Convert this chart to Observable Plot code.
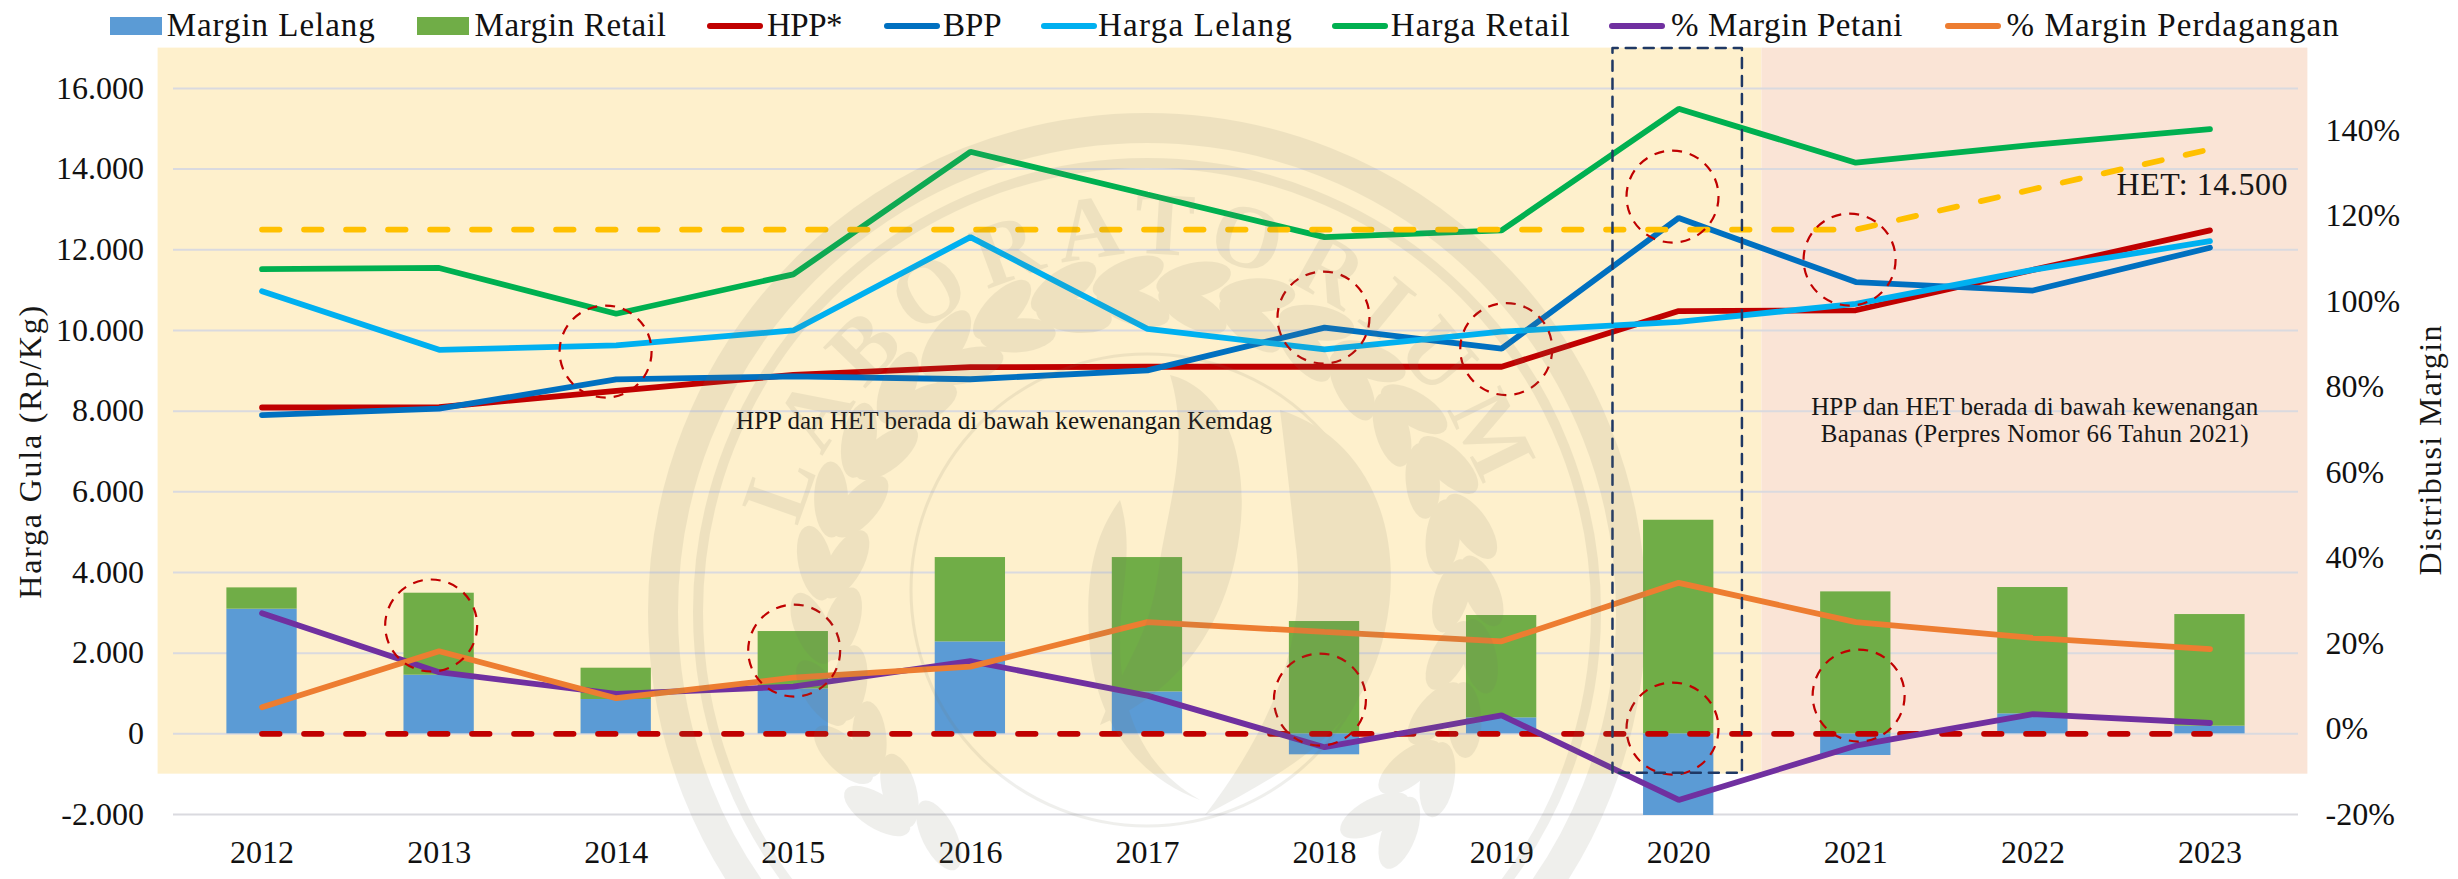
<!DOCTYPE html>
<html><head><meta charset="utf-8">
<script src="https://cdn.jsdelivr.net/npm/d3@7"></script>
<script src="https://cdn.jsdelivr.net/npm/@observablehq/plot@0.6"></script>
<style>
html,body{margin:0;padding:0;background:#fff;}
#wrap{position:relative;width:2458px;height:879px;overflow:hidden;font-family:"Liberation Serif",serif;color:#111;}
#wrap svg{position:absolute;left:0;top:0;}
.lg-text{position:absolute;font-size:33px;line-height:40px;top:5px;white-space:nowrap;}
.lg-sw{position:absolute;}
</style></head><body><div id="wrap"></div>
<script>
const years = [2012,2013,2014,2015,2016,2017,2018,2019,2020,2021,2022,2023];
const marginLelang = [3090,1454,851,1115,2280,1040,-520,397,-2024,-537,496,190];
const marginRetail = [528,2032,776,1421,2090,3330,2784,2536,5295,3519,3131,2767];
const hpp = [8090,8100,8500,8900,9090,9100,9100,9100,10480,10500,11500,12480];
const bpp = [7900,8060,8785,8860,8790,9010,10070,9550,12790,11200,10990,12050];
const hargaLelang = [10975,9520,9630,10000,12315,10040,9530,9970,10215,10660,11500,12215];
const hargaRetail = [11520,11550,10415,11390,14430,13370,12315,12480,15495,14160,14600,14990];
const het = [12500,12500,12500,12500,12500,12500,12500,12500,12500,12500,13500,14490];
const pctPetani = [27.1,13.3,8.2,9.9,15.9,7.8,-4.25,3.2,-16.6,-3.9,3.5,1.4];
const pctPerdagangan = [5.1,18.2,7.2,12,14.6,25,22.7,20.5,34.2,25,21.3,18.7];
const leftTicks = [-2000,0,2000,4000,6000,8000,10000,12000,14000,16000];
const rightTicks = [-20,0,20,40,60,80,100,120,140];
const focusYears = [2013.94,2012.955,2015.005,2017.994,2019.026,2019.965,2020.965,2017.974,2019.965,2021.016];
const focusValues = [9477,2685,2065,10320,9539,13319,11757,850,131,949];
const legendLabels = ["Margin Lelang","Margin Retail","HPP*","BPP","Harga Lelang","Harga Retail","% Margin Petani","% Margin Perdagangan"];
const legendColors = ["#5B9BD5","#70AD47","#C00000","#0070C0","#00B0F0","#00B050","#7030A0","#ED7D31"];
const legendSwatchX = [110,417,707,884,1041,1332,1609,1944.5];
const legendTextX = [166.7,474.5,767,943,1098,1390.8,1671,2006.5];
const legendTextW = [209,192,75,58.6,195,180,232,333.5];

const toLeft = p => -2000 + (p + 20) * 16957 / 160;
const fromLeft = v => (v + 2000) * 160 / 16957 - 20;
const dotFmt = d => d3.format(",")(d).replace(/,/g, ".").replace("−","-");
const series = (vals, f = d => d) => vals.map((v, i) => ({x: years[i], y: f(v)}));
const halfBar = 0.1985;
const bars = years.flatMap((yr, i) => {
  const base = Math.max(marginLelang[i], 0);
  return [
    {x1: yr - halfBar, x2: yr + halfBar, y1: 0, y2: marginLelang[i], f: legendColors[0]},
    {x1: yr - halfBar, x2: yr + halfBar, y1: base, y2: base + marginRetail[i], f: legendColors[1]}
  ];
});
const line = (vals, stroke, extra = {}, f) => Plot.line(series(vals, f), {x: "x", y: "y", stroke, strokeWidth: 5.8, strokeLinecap: "round", strokeLinejoin: "miter", ...extra});
const dashed = {strokeDasharray: "17.5,24.5"};
const txtW = new Map([
  ["Harga Gula (Rp/Kg)", 293], ["Distribusi Margin", 250],
  ["HPP dan HET berada di bawah kewenangan Kemdag", 536],
  ["HPP dan HET berada di bawah kewenangan", 447],
  ["Bapanas (Perpres Nomor 66 Tahun 2021)", 428],
  ["HET: 14.500", 171]
]);
const note = (text, x, y, fontSize, rotate = 0) => Plot.text([text], {x: () => x, y: () => y, text: d => d, fontSize, rotate, fill: "#161616"});

function watermark(index, scales, values, dims) {
  const cx = 1147, cy = 612, ink = "rgb(120,120,100)";
  const g = d3.create("svg:g").attr("pointer-events", "none").attr("opacity", 0.115);
  g.append("circle").attr("cx", cx).attr("cy", cy).attr("r", 484).attr("fill", "none").attr("stroke", ink).attr("stroke-width", 30);
  g.append("circle").attr("cx", cx).attr("cy", cy).attr("r", 449).attr("fill", "none").attr("stroke", ink).attr("stroke-width", 10);
  g.append("circle").attr("cx", cx).attr("cy", 590).attr("r", 236).attr("fill", "none").attr("stroke", ink).attr("stroke-width", 3);
  const r = 358;
  g.append("defs").append("path").attr("id", "wmarc")
    .attr("d", `M ${cx + r * Math.sin(-1.45)} ${cy - r * Math.cos(-1.45)} A ${r} ${r} 0 0 1 ${cx + r * Math.sin(1.37)} ${cy - r * Math.cos(1.37)}`);
  g.append("text").attr("font-family", "Liberation Serif").attr("font-weight", "bold").attr("font-size", 90).attr("fill", ink).attr("letter-spacing", 14)
    .attr("text-anchor", "middle")
    .append("textPath").attr("href", "#wmarc").attr("startOffset", "50%").text("LABORATORIUM");
  for (let i = -24; i <= 24; i++) {
    const a = i * 5.6;
    const rad = i % 2 ? 335 : 305;
    g.append("ellipse").attr("rx", 38).attr("ry", 17).attr("fill", ink)
      .attr("transform", `rotate(${a} ${cx} ${cy}) translate(${cx + (i % 2 ? 14 : -14)} ${cy - rad}) rotate(${i % 2 ? -18 : 18})`);
  }
  g.append("path").attr("fill", ink).attr("d", "M 1280 410 C 1375 440 1405 540 1385 630 C 1365 730 1290 770 1205 815 C 1270 730 1310 640 1295 540 C 1290 495 1285 450 1280 410 Z");
  g.append("path").attr("fill", ink).attr("d", "M 1170 375 C 1230 390 1255 470 1235 560 C 1215 650 1160 700 1100 725 C 1130 650 1150 640 1160 560 C 1170 500 1190 440 1170 375 Z");
  g.append("path").attr("fill", ink).attr("d", "M 1120 500 C 1090 540 1085 590 1090 650 C 1095 700 1120 770 1200 800 C 1130 760 1120 690 1120 640 C 1120 590 1135 550 1120 500 Z");
  return g.node();
}

const chart = Plot.plot({
  width: 2458, height: 879,
  marginLeft: 173, marginRight: 160, marginTop: 47.6, marginBottom: 65,
  style: {background: "transparent", fontFamily: "Liberation Serif", color: "#111", overflow: "visible"},
  x: {domain: [2011.5, 2023.5], axis: null},
  y: {domain: [-2000, 17000], axis: null},
  marks: [
    Plot.rect([{x1: 2011.413, x2: 2020.47, f: "#FEF0CC"}, {x1: 2020.47, x2: 2023.553, f: "#FAE4D6"}],
      {x1: "x1", x2: "x2", y1: -1000, y2: 17000, fill: "f"}),
    Plot.ruleY(leftTicks, {x1: 2011.5, x2: 2023.5, stroke: "#DADADF", strokeWidth: 2}),
    Plot.rect(bars, {x1: "x1", x2: "x2", y1: "y1", y2: "y2", fill: "f"}),
    line(hpp, legendColors[2]),
    line(bpp, legendColors[3]),
    line(hargaLelang, legendColors[4]),
    line(hargaRetail, legendColors[5]),
    line(het, "#FFC000", dashed),
    line(years.map(() => 0), "#C00000", dashed),
    line(pctPetani, legendColors[6], {}, toLeft),
    line(pctPerdagangan, legendColors[7], {}, toLeft),
    Plot.dot(focusYears.map((x, i) => ({x, y: focusValues[i]})), {x: "x", y: "y", r: 46, fill: "none", stroke: "#C00000", strokeWidth: 2.2, strokeDasharray: "10,8"}),
    Plot.line([{x: 2019.626, y: -967}, {x: 2019.626, y: 17000}, {x: 2020.357, y: 17000}, {x: 2020.357, y: -967}, {x: 2019.626, y: -967}],
      {x: "x", y: "y", stroke: "#1F3864", strokeWidth: 2.5, strokeDasharray: "10,8"}),
    Plot.axisY({anchor: "left", ticks: leftTicks, tickFormat: dotFmt, tickSize: 0, tickPadding: 29.5, fontSize: 32, label: null}),
    Plot.axisY({anchor: "right", ticks: rightTicks.map(toLeft), tickFormat: v => Math.round(fromLeft(v)) + "%", tickSize: 0, tickPadding: 27, fontSize: 32, label: null}),
    Plot.axisX({ticks: years, tickFormat: d => String(d), tickSize: 0, tickPadding: 26, fontSize: 32, label: null}),
    note("Harga Gula (Rp/Kg)", 2010.692, 6981, 32, -90),
    note("Distribusi Margin", 2024.245, 7025, 32, -90),
    note("HPP dan HET berada di bawah kewenangan Kemdag", 2016.19, 7766, 25),
    note("HPP dan HET berada di bawah kewenangan", 2022.01, 8113, 25),
    note("Bapanas (Perpres Nomor 66 Tahun 2021)", 2022.01, 7443, 25),
    note("HET: 14.500", 2022.955, 13617, 32),
    watermark
  ]
});
const wrap = document.getElementById("wrap");
wrap.appendChild(chart);
chart.querySelectorAll("text").forEach(t => {
  const w = txtW.get(t.textContent);
  if (w) { t.setAttribute("textLength", w); t.setAttribute("lengthAdjust", "spacing"); }
});
legendLabels.forEach((lab, i) => {
  const sw = document.createElement("div");
  sw.className = "lg-sw";
  const isBar = i < 2;
  sw.style.cssText = `left:${legendSwatchX[i]}px;width:${isBar ? 52 : 56}px;top:${isBar ? 17 : 23}px;height:${isBar ? 18 : 6}px;background:${legendColors[i]};border-radius:${isBar ? 0 : 3}px`;
  wrap.appendChild(sw);
  const t = document.createElement("div");
  t.className = "lg-text";
  t.textContent = lab;
  t.style.left = legendTextX[i] + "px";
  wrap.appendChild(t);
  const natural = t.getBoundingClientRect().width;
  t.style.letterSpacing = ((legendTextW[i] - natural) / lab.length) + "px";
});
</script></body></html>
